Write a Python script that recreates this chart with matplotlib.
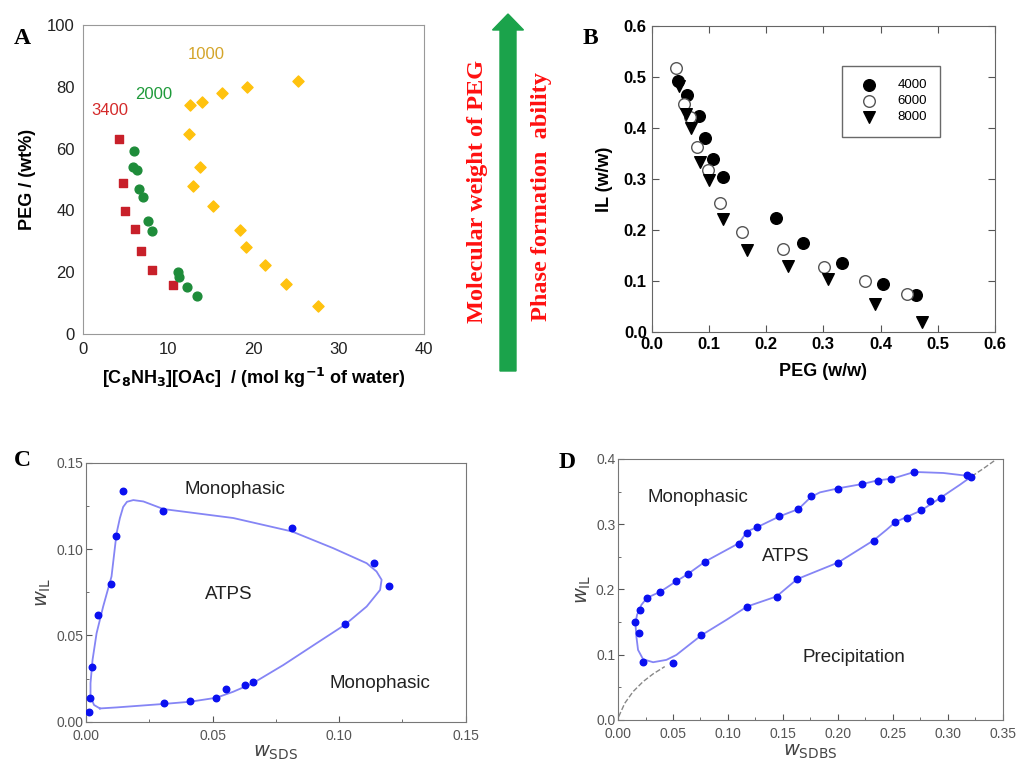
import matplotlib
matplotlib.use("Agg")
import matplotlib.pyplot as plt
from matplotlib.patches import FancyArrow

plt.rcParams['font.family'] = ['Liberation Sans', 'DejaVu Sans']

# ---- panel A data: PEG (wt%) vs [C8NH3][OAc] (mol/kg)
a3400_x = [4.26, 4.7, 4.9, 6.1, 6.75, 8.1, 10.5]
a3400_y = [63.1, 48.8, 39.8, 34.0, 27.0, 20.8, 15.9]
a2000_x = [6.0, 5.9, 6.3, 6.6, 7.0, 7.6, 8.1, 11.1, 11.3, 12.2, 13.4]
a2000_y = [59.3, 53.9, 53.0, 46.9, 44.2, 36.7, 33.4, 20.2, 18.3, 15.3, 12.3]
a1000_x = [25.2, 19.2, 16.25, 13.98, 12.6, 12.46, 13.75, 12.9, 15.2, 18.4, 19.1, 21.4, 23.8, 27.6]
a1000_y = [81.9, 79.8, 78.1, 75.1, 74.0, 64.6, 54.2, 47.9, 41.3, 33.5, 28.0, 22.4, 16.3, 9.2]

# ---- panel B data: IL vs PEG (w/w)
b4000_x = [0.046, 0.061, 0.083, 0.093, 0.107, 0.125, 0.218, 0.265, 0.333, 0.405, 0.462]
b4000_y = [0.492, 0.464, 0.423, 0.380, 0.339, 0.303, 0.224, 0.174, 0.135, 0.095, 0.072]
b6000_x = [0.043, 0.057, 0.067, 0.079, 0.098, 0.119, 0.158, 0.230, 0.301, 0.373, 0.446]
b6000_y = [0.518, 0.446, 0.421, 0.362, 0.317, 0.253, 0.196, 0.162, 0.127, 0.100, 0.074]
b8000_x = [0.047, 0.060, 0.069, 0.084, 0.101, 0.125, 0.166, 0.239, 0.309, 0.391, 0.473]
b8000_y = [0.482, 0.427, 0.400, 0.334, 0.298, 0.221, 0.160, 0.130, 0.104, 0.055, 0.020]

# ---- panel C data: w_IL vs w_SDS
c_x = [0.0148, 0.0306, 0.0814, 0.1139, 0.1198, 0.1022, 0.0659, 0.0627, 0.0553, 0.0515,
       0.0412, 0.0308, 0.0016, 0.0011, 0.0024, 0.0046, 0.0097, 0.0117]
c_y = [0.1339, 0.1223, 0.1126, 0.0919, 0.0788, 0.0569, 0.0228, 0.0215, 0.0192, 0.0137,
       0.0122, 0.0110, 0.0135, 0.0054, 0.0315, 0.0619, 0.0797, 0.1076]
c_curve_x = [0.0055, 0.0121, 0.0306, 0.0412, 0.0515, 0.0582, 0.0659, 0.0780, 0.0911, 0.1022,
             0.1109, 0.1162, 0.1168, 0.1148, 0.1109, 0.0977, 0.0814, 0.0582, 0.0306, 0.0227,
             0.0187, 0.0162, 0.0147, 0.0134, 0.0121, 0.0101, 0.0068, 0.0042, 0.0026, 0.0018,
             0.0018, 0.0032, 0.0055]
c_curve_y = [0.0077, 0.0083, 0.0103, 0.0116, 0.0139, 0.0174, 0.0223, 0.0329, 0.0455, 0.0561,
             0.0668, 0.0764, 0.0823, 0.0871, 0.0919, 0.1006, 0.1103, 0.1181, 0.1233, 0.1277,
             0.1285, 0.1275, 0.1245, 0.1180, 0.1093, 0.0842, 0.0668, 0.0513, 0.0358, 0.0223,
             0.0145, 0.0097, 0.0077]

# ---- panel D data: w_IL vs w_SDBS
d_x = [0.0158, 0.0191, 0.0197, 0.0225, 0.0264, 0.0383, 0.0498, 0.0528, 0.0638, 0.0759,
       0.0795, 0.1102, 0.1169, 0.1175, 0.1269, 0.1442, 0.1469, 0.1642, 0.1630, 0.1755,
       0.2004, 0.2004, 0.2222, 0.2325, 0.2362, 0.2486, 0.2523, 0.2632, 0.2696, 0.2760,
       0.2838, 0.2936, 0.3179, 0.3209]
d_y = [0.1499, 0.1330, 0.1678, 0.0885, 0.1862, 0.1964, 0.0870, 0.2123, 0.2240, 0.1299,
       0.2425, 0.2691, 0.2864, 0.1734, 0.2957, 0.1882, 0.3125, 0.3233, 0.2153, 0.3427,
       0.3545, 0.2409, 0.3611, 0.2747, 0.3668, 0.3693, 0.3033, 0.3100, 0.3806, 0.3212,
       0.3361, 0.3407, 0.3754, 0.3724]
d_curve_x = [0.3218, 0.2960, 0.2696, 0.2505, 0.2353, 0.2222, 0.2004, 0.1837, 0.1755, 0.1642,
             0.1469, 0.1269, 0.1175, 0.1102, 0.0795, 0.0638, 0.0528, 0.0383, 0.0264, 0.0213,
             0.0173, 0.0158, 0.0167, 0.0182, 0.0228, 0.0319, 0.0440, 0.0531, 0.0759, 0.0987,
             0.1175, 0.1442, 0.1630, 0.2004, 0.2325, 0.2444, 0.2523, 0.2760, 0.2936, 0.3112,
             0.3218]
d_curve_y = [0.3734, 0.3785, 0.3801, 0.3703, 0.3668, 0.3616, 0.3550, 0.3488, 0.3417, 0.3233,
             0.3120, 0.2957, 0.2890, 0.2711, 0.2430, 0.2240, 0.2123, 0.1964, 0.1872, 0.1765,
             0.1611, 0.1483, 0.1279, 0.1074, 0.0931, 0.0885, 0.0921, 0.0997, 0.1299, 0.1535,
             0.1739, 0.1893, 0.2159, 0.2414, 0.2752, 0.2916, 0.3033, 0.3212, 0.3407, 0.3606,
             0.3734]
d_dash_lo_x = [0.0006, 0.0061, 0.0137, 0.0228, 0.0319, 0.0425]
d_dash_lo_y = [0.0051, 0.0256, 0.0435, 0.0588, 0.0706, 0.0818]
d_dash_hi_x = [0.3218, 0.3324, 0.3430]
d_dash_hi_y = [0.3734, 0.3852, 0.3980]

fig = plt.figure(figsize=(10.16, 7.61), dpi=100)

# ================= A
axA = fig.add_axes([0.0817, 0.5611, 0.3356, 0.406])
axA.scatter(a3400_x, a3400_y, marker='s', s=40, color='#C8202A', zorder=3)
axA.scatter(a2000_x, a2000_y, marker='o', s=40, color='#1E8C3A', zorder=3)
axA.scatter(a1000_x, a1000_y, marker='D', s=32, color='#FFC20E', zorder=3)
axA.text(14.5, 90.6, '1000', color='#D4A52A', fontsize=12, ha='center', va='center')
axA.text(8.3, 77.6, '2000', color='#1E9A3A', fontsize=12, ha='center', va='center')
axA.text(3.1, 72.3, '3400', color='#D42A2A', fontsize=12, ha='center', va='center')
axA.set_xlim(0, 40)
axA.set_ylim(0, 100)
axA.set_xticks([0, 10, 20, 30, 40])
axA.set_yticks([0, 20, 40, 60, 80, 100])
axA.tick_params(length=0, labelsize=12, pad=6, labelcolor='#222222')
for sp in axA.spines.values():
    sp.set_color('#999999')
axA.set_ylabel('PEG / (wt%)', fontsize=13, fontweight='bold', labelpad=8)
axA.set_xlabel(r'[C$_\mathbf{8}$NH$_\mathbf{3}$][OAc]  / (mol kg$^\mathbf{-1}$ of water)',
               fontsize=13, fontweight='bold', labelpad=6)

# ================= B
axB = fig.add_axes([0.6414, 0.5637, 0.3379, 0.4025])
axB.scatter(b4000_x, b4000_y, marker='o', s=70, color='black', zorder=3, label='4000')
axB.scatter(b6000_x, b6000_y, marker='o', s=70, facecolor='white', edgecolor='#555555',
            linewidth=1, zorder=3, label='6000')
axB.scatter(b8000_x, b8000_y, marker='v', s=70, color='black', zorder=3, label='8000')
axB.set_xlim(0, 0.6)
axB.set_ylim(0, 0.6)
axB.set_xticks([0, 0.1, 0.2, 0.3, 0.4, 0.5, 0.6])
axB.set_yticks([0, 0.1, 0.2, 0.3, 0.4, 0.5, 0.6])
axB.set_xticklabels(['0.0', '0.1', '0.2', '0.3', '0.4', '0.5', '0.6'])
axB.set_yticklabels(['0.0', '0.1', '0.2', '0.3', '0.4', '0.5', '0.6'])
axB.tick_params(direction='in', top=True, right=True, length=5, labelsize=12, color='#555555')
for lab in axB.get_xticklabels() + axB.get_yticklabels():
    lab.set_fontweight('bold')
for sp in axB.spines.values():
    sp.set_color('#666666')
axB.set_xlabel('PEG (w/w)', fontsize=13, fontweight='bold', labelpad=8)
axB.set_ylabel('IL (w/w)', fontsize=13, fontweight='bold', labelpad=8)
leg = axB.legend(loc='upper left', bbox_to_anchor=(0.555, 0.87), fontsize=9.5, frameon=True,
                 fancybox=False, edgecolor='#444444', borderpad=1.0, handletextpad=1.2,
                 labelspacing=0.3, borderaxespad=0)
leg.get_frame().set_linewidth(1)

# ================= C
axC = fig.add_axes([0.0846, 0.0516, 0.3737, 0.340])
axC.plot(c_curve_x, c_curve_y, color='#8585F5', linewidth=1.3, zorder=2)
axC.scatter(c_x, c_y, s=22, color='#0A10F0', zorder=3)
axC.text(0.0589, 0.1345, 'Monophasic', fontsize=13.5, color='#222222', ha='center', va='center')
axC.text(0.0566, 0.0735, 'ATPS', fontsize=13.5, color='#222222', ha='center', va='center')
axC.text(0.1162, 0.0223, 'Monophasic', fontsize=13.5, color='#222222', ha='center', va='center')
axC.set_xlim(0, 0.15)
axC.set_ylim(0, 0.15)
axC.set_xticks([0, 0.05, 0.10, 0.15])
axC.set_xticks([0.025, 0.075, 0.125], minor=True)
axC.set_yticks([0, 0.05, 0.10, 0.15])
axC.set_yticks([0.025, 0.075, 0.125], minor=True)
axC.set_xticklabels(['0.00', '0.05', '0.10', '0.15'])
axC.set_yticklabels(['0.00', '0.05', '0.10', '0.15'])
axC.tick_params(direction='in', length=4, labelsize=10, labelcolor='#555555', color='#555555', pad=2)
axC.tick_params(axis='x', pad=5)
axC.tick_params(which='minor', direction='in', length=2, color='#555555')
for sp in axC.spines.values():
    sp.set_color('#777777')
axC.set_xlabel(r'$w_{\mathrm{SDS}}$', fontsize=14, color='#444444', labelpad=1)
axC.set_ylabel(r'$w_{\mathrm{IL}}$', fontsize=14, color='#444444', labelpad=2)

# ================= D
axD = fig.add_axes([0.6083, 0.0539, 0.3786, 0.343])
axD.plot(d_dash_lo_x, d_dash_lo_y, color='#888888', linestyle='--', linewidth=1, zorder=1)
axD.plot(d_dash_hi_x, d_dash_hi_y, color='#888888', linestyle='--', linewidth=1, zorder=1)
axD.plot(d_curve_x, d_curve_y, color='#8585F5', linewidth=1.3, zorder=2)
axD.scatter(d_x, d_y, s=22, color='#0A10F0', zorder=3)
axD.text(0.0729, 0.3417, 'Monophasic', fontsize=13.5, color='#222222', ha='center', va='center')
axD.text(0.1527, 0.2506, 'ATPS', fontsize=13.5, color='#222222', ha='center', va='center')
axD.text(0.2146, 0.0962, 'Precipitation', fontsize=13.5, color='#222222', ha='center', va='center')
axD.set_xlim(0, 0.35)
axD.set_ylim(0, 0.4)
axD.set_xticks([0, 0.05, 0.10, 0.15, 0.20, 0.25, 0.30, 0.35])
axD.set_xticks([0.025, 0.075, 0.125, 0.175, 0.225, 0.275, 0.325], minor=True)
axD.set_yticks([0, 0.1, 0.2, 0.3, 0.4])
axD.set_yticks([0.05, 0.15, 0.25, 0.35], minor=True)
axD.set_xticklabels(['0.00', '0.05', '0.10', '0.15', '0.20', '0.25', '0.30', '0.35'])
axD.set_yticklabels(['0.0', '0.1', '0.2', '0.3', '0.4'])
axD.tick_params(direction='in', length=4, labelsize=10, labelcolor='#555555', color='#555555', pad=2)
axD.tick_params(axis='x', pad=5)
axD.tick_params(which='minor', direction='in', length=2, color='#555555')
for sp in axD.spines.values():
    sp.set_color('#777777')
axD.set_xlabel(r'$w_{\mathrm{SDBS}}$', fontsize=14, color='#444444', labelpad=1)
axD.set_ylabel(r'$w_{\mathrm{IL}}$', fontsize=14, color='#444444', labelpad=2)

# ================= panel letters
for lbl, (px, py) in zip(['A', 'B', 'C', 'D'], [(22, 38), (590, 38), (22, 460), (567, 462)]):
    fig.text(px / 1016, 1 - py / 761, lbl, fontsize=17, fontweight='bold',
             family='Liberation Serif', ha='center', va='center')

# ================= green arrow and side notes
arrow = FancyArrow(508 / 1016, 1 - 371 / 761, 0, (371 - 30) / 761, width=16 / 1016,
                   head_width=31 / 1016, head_length=16 / 761, length_includes_head=False,
                   color='#1BA34B', transform=fig.transFigure)
fig.patches.append(arrow)
fig.text(477 / 1016, 1 - 191 / 761, 'Molecular weight of PEG', rotation=90, color='#FF1010',
         fontsize=17.5, fontweight='bold', family='Liberation Serif', ha='center', va='center')
fig.text(542 / 1016, 1 - 197 / 761, 'Phase formation  ability', rotation=90, color='#FF1010',
         fontsize=17.5, fontweight='bold', family='Liberation Serif', ha='center', va='center')

fig.savefig('out.png', dpi=100)
